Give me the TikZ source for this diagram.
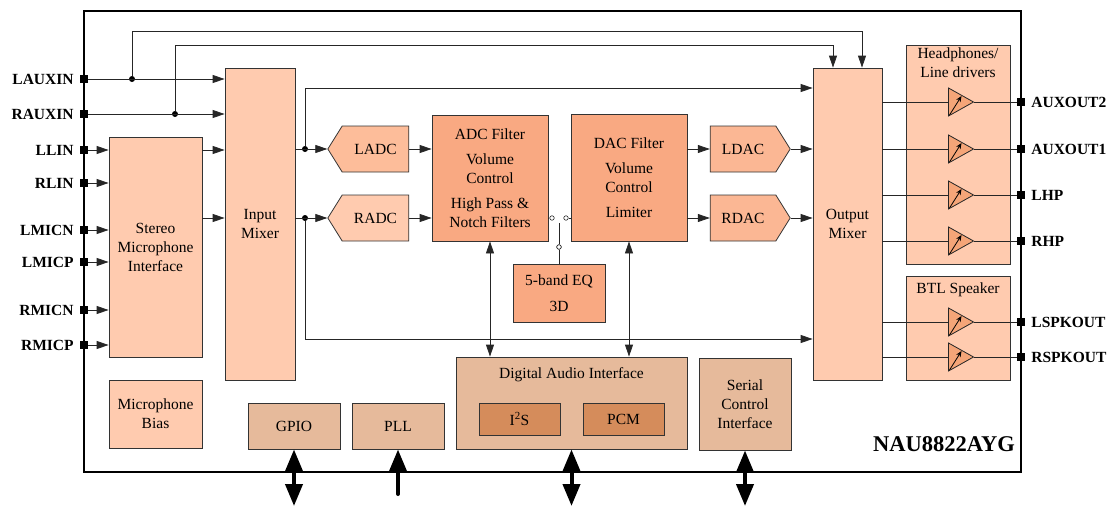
\documentclass[tikz,border=0pt]{standalone}
\usepackage{fontspec}
\setmainfont{Liberation Serif}
\usetikzlibrary{positioning,arrows.meta,shapes.symbols}
\definecolor{peach}{HTML}{FFCBAF}
\definecolor{adcpeach}{HTML}{FDBD9A}
\definecolor{dacpeach}{HTML}{FBB794}
\definecolor{filt}{HTML}{F9A982}
\definecolor{tan}{HTML}{E6BA9B}
\definecolor{darktan}{HTML}{D58C5B}
\definecolor{ampfill}{HTML}{F5A578}
\tikzset{
  blk/.style={draw=black!80,line width=0.8pt,align=center,inner sep=0pt},
  wire/.style={draw=black!85,line width=0.8pt},
  sig/.style={wire,-{Triangle[length=12pt,width=8pt]}},
  dsig/.style={wire,{Triangle[length=12pt,width=8pt]}-{Triangle[length=12pt,width=8pt]}},
  bus/.style={line width=4pt,{Triangle[length=22pt,width=17pt]}-{Triangle[length=22pt,width=17pt]}},
  pad/.style={fill=black,minimum size=8pt,inner sep=0pt},
  padlab/.style={inner sep=0pt,font=\bfseries\fontsize{15.5}{19}\selectfont},
  gain/.style={line width=0.8pt,-{Stealth[length=6pt,width=5pt]}},
  amp/.style={minimum width=27pt,minimum height=30pt,inner sep=0pt,
    path picture={
      \draw[draw=black!85,fill=ampfill,line width=0.8pt]
        ([shift={(1,1)}]path picture bounding box.north west)
        -- ([xshift=-1pt]path picture bounding box.east)
        -- ([shift={(1,-1)}]path picture bounding box.south west) -- cycle;
      \draw[gain] ([shift={(2,-2)}]path picture bounding box.south west)
        -- ([shift={(14,-6)}]path picture bounding box.west);
    }},
  dot/.style={circle,fill=black,minimum size=6pt,inner sep=0pt},
  sw/.style={circle,draw=black!85,fill=white,line width=0.6pt,minimum size=4.5pt,inner sep=0pt}
}
\begin{document}
\begin{tikzpicture}[x=1pt,y=-1pt,font=\fontsize{15.5}{19}\selectfont]
\useasboundingbox (0,0) rectangle (1113,506);
% chip outline
\node[draw,line width=1.6pt,minimum width=937pt,minimum height=461pt,inner sep=0pt] (chip) at (552.5,241.5) {};
\node[font=\bfseries\fontsize{22.5}{27}\selectfont] (chipname) at (944,444) {NAU8822AYG};

% blocks
\begin{scope}[every node/.style={blk}]
\node[fill=peach,minimum width=93pt,minimum height=220pt] (mic) at (155.5,247) {Stereo\\Microphone\\Interface};
\node[fill=peach,minimum width=70pt,minimum height=312pt] (inmix) at (260,224) {Input\\Mixer};
\node[fill=peach,minimum width=93pt,minimum height=68pt] (bias) at (155.5,414) {Microphone\\Bias};
\node[fill=tan,minimum width=92pt,minimum height=46pt] (gpio) at (294,426) {GPIO};
\node[fill=tan,minimum width=92pt,minimum height=46pt] (pll) at (398,426) {PLL};
\node[fill=tan,minimum width=231pt,minimum height=92pt] (dai) at (571.5,403) {};
\node[fill=darktan,minimum width=81pt,minimum height=32pt] (i2s) at (519.5,419) {I\textsuperscript{2}S};
\node[fill=darktan,minimum width=81pt,minimum height=32pt] (pcm) at (623.5,419) {PCM};
\node[fill=tan,minimum width=92pt,minimum height=92pt] (sci) at (745,404) {Serial\\Control\\Interface};
\node[fill=adcpeach,signal,signal to=west,signal from=nowhere,signal pointer angle=116,minimum width=81pt,minimum height=46pt] (ladc) at (375.5,149) {LADC};
\node[fill=peach,signal,signal to=west,signal from=nowhere,signal pointer angle=116,minimum width=81pt,minimum height=46pt] (radc) at (375.5,218) {RADC};
\node[fill=filt,minimum width=116pt,minimum height=126pt] (adcf) at (490,178) {ADC Filter\\[6pt]Volume\\Control\\[6pt]High Pass \&\\Notch Filters};
\node[fill=filt,minimum width=116pt,minimum height=127pt] (dacf) at (629,177.5) {DAC Filter\\[6pt]Volume\\Control\\[6pt]Limiter};
\node[fill=filt,minimum width=92pt,minimum height=58pt] (eq) at (559,293) {5-band EQ\\[7pt]3D};
\node[fill=dacpeach,signal,signal to=east,signal from=nowhere,signal pointer angle=116,minimum width=80pt,minimum height=46pt] (ldac) at (743,149) {LDAC};
\node[fill=dacpeach,signal,signal to=east,signal from=nowhere,signal pointer angle=116,minimum width=80pt,minimum height=46pt] (rdac) at (743,218) {RDAC};
\node[fill=peach,minimum width=69pt,minimum height=312pt] (outmix) at (847.5,224) {Output\\Mixer};
\node[fill=peach,minimum width=104pt,minimum height=219pt] (hp) at (958,154.5) {};
\node[fill=peach,minimum width=104pt,minimum height=104pt] (btl) at (958,328) {};
\end{scope}
\node[below=7pt of dai.north] (daitxt) {Digital Audio Interface};
\node[below=0pt of hp.north,align=center] (hptxt) {Headphones/\\Line drivers};
\node[below=4pt of btl.north] (btltxt) {BTL Speaker};

% input pads
\node[pad] (lauxin) at (84,79) {};
\node[pad] (rauxin) at (84,114) {};
\node[pad] (llin) at (84,150) {};
\node[pad] (rlin) at (84,183) {};
\node[pad] (lmicn) at (84,230) {};
\node[pad] (lmicp) at (84,262) {};
\node[pad] (rmicn) at (84,310) {};
\node[pad] (rmicp) at (84,345) {};
\node[padlab,left=6pt of lauxin] {LAUXIN};
\node[padlab,left=6pt of rauxin] {RAUXIN};
\node[padlab,left=6pt of llin] {LLIN};
\node[padlab,left=6pt of rlin] {RLIN};
\node[padlab,left=6pt of lmicn] {LMICN};
\node[padlab,left=6pt of lmicp] {LMICP};
\node[padlab,left=6pt of rmicn] {RMICN};
\node[padlab,left=6pt of rmicp] {RMICP};

% output pads and drivers
\node[pad] (auxout2) at (1021,102) {};
\node[pad] (auxout1) at (1021,149) {};
\node[pad] (lhp) at (1021,195) {};
\node[pad] (rhp) at (1021,241) {};
\node[pad] (lspkout) at (1021,322) {};
\node[pad] (rspkout) at (1021,357) {};
\node[padlab,right=6pt of auxout2] {AUXOUT2};
\node[padlab,right=6pt of auxout1] {AUXOUT1};
\node[padlab,right=6pt of lhp] {LHP};
\node[padlab,right=6pt of rhp] {RHP};
\node[padlab,right=6pt of lspkout] {LSPKOUT};
\node[padlab,right=6pt of rspkout] {RSPKOUT};
\node[amp] (amp1) at (961,102) {};
\node[amp] (amp2) at (961,149) {};
\node[amp] (amp3) at (961,195) {};
\node[amp] (amp4) at (961,241) {};
\node[amp] (amp5) at (961,322) {};
\node[amp] (amp6) at (961,357) {};

% junctions and switch
\node[dot] (jl) at (132,79) {};
\node[dot] (jr) at (175,114) {};
\node[dot] (jladc) at (305,149) {};
\node[dot] (jradc) at (305,218) {};
\node[sw] (s1) at (552,218) {};
\node[sw] (s2) at (566,218) {};
\node[sw] (s3) at (559,247) {};
\coordinate (swtop) at (559,223);
\coordinate (gpioend) at (294,506);
\coordinate (pllend) at (398,494);
\coordinate (daiend) at (571.5,506);
\coordinate (sciend) at (745,506);

% connections
\begin{scope}[every path/.style={sig}]
\path (lauxin) -- (lauxin -| inmix.west);
\path (rauxin) -- (rauxin -| inmix.west);
\path (jl) -- ++(0,-48) -| ([xshift=14.5pt]outmix.north);
\path (jr) -- ++(0,-69) -| ([xshift=-14.5pt]outmix.north);
\path (llin) -- (llin -| mic.west);
\path (rlin) -- (rlin -| mic.west);
\path (lmicn) -- (lmicn -| mic.west);
\path (lmicp) -- (lmicp -| mic.west);
\path (rmicn) -- (rmicn -| mic.west);
\path (rmicp) -- (rmicp -| mic.west);
\path (mic.east |- llin) -- (inmix.west |- llin);
\path (mic.east |- radc) -- (inmix.west |- radc);
\path (inmix.east |- ladc) -- (ladc.west);
\path (inmix.east |- radc) -- (radc.west);
\path (jladc) |- ([yshift=136pt]outmix.west);
\path (jradc) |- ([yshift=-115pt]outmix.west);
\path (ladc.east) -- (adcf.west |- ladc);
\path (radc.east) -- (adcf.west |- radc);
\path (dacf.east |- ldac) -- (ldac.west);
\path (dacf.east |- rdac) -- (rdac.west);
\path (ldac.east) -- (outmix.west |- ldac);
\path (rdac.east) -- (outmix.west |- rdac);
\end{scope}
\draw[dsig] (adcf.south) -- (adcf.south |- dai.north);
\draw[dsig] (dacf.south) -- (dacf.south |- dai.north);
\draw[wire] (adcf.east |- s1) -- (s1);
\draw[wire] (s2) -- (dacf.west |- s2);
\draw[wire] (swtop) -- (s3) -- (eq.north);
\node[sw] at (s3) {};
\draw[wire] (outmix.east |- amp1) -- ([xshift=1pt]amp1.west);
\draw[wire] (outmix.east |- amp2) -- ([xshift=1pt]amp2.west);
\draw[wire] (outmix.east |- amp3) -- ([xshift=1pt]amp3.west);
\draw[wire] (outmix.east |- amp4) -- ([xshift=1pt]amp4.west);
\draw[wire] (outmix.east |- amp5) -- ([xshift=1pt]amp5.west);
\draw[wire] (outmix.east |- amp6) -- ([xshift=1pt]amp6.west);
\draw[wire] ([xshift=-1pt]amp1.east) -- (auxout2);
\draw[wire] ([xshift=-1pt]amp2.east) -- (auxout1);
\draw[wire] ([xshift=-1pt]amp3.east) -- (lhp);
\draw[wire] ([xshift=-1pt]amp4.east) -- (rhp);
\draw[wire] ([xshift=-1pt]amp5.east) -- (lspkout);
\draw[wire] ([xshift=-1pt]amp6.east) -- (rspkout);

% external buses
\draw[bus] (gpio.south) -- (gpioend);
\draw[bus,-,line cap=round] (pllend) -- ([yshift=-20pt]pll.south);
\draw[line width=4pt,-{Triangle[length=22pt,width=17pt]}] ([yshift=-21pt]pll.south) -- (pll.south);
\draw[bus] (dai.south) -- (daiend);
\draw[bus] (sci.south) -- (sciend);
\end{tikzpicture}
\end{document}
